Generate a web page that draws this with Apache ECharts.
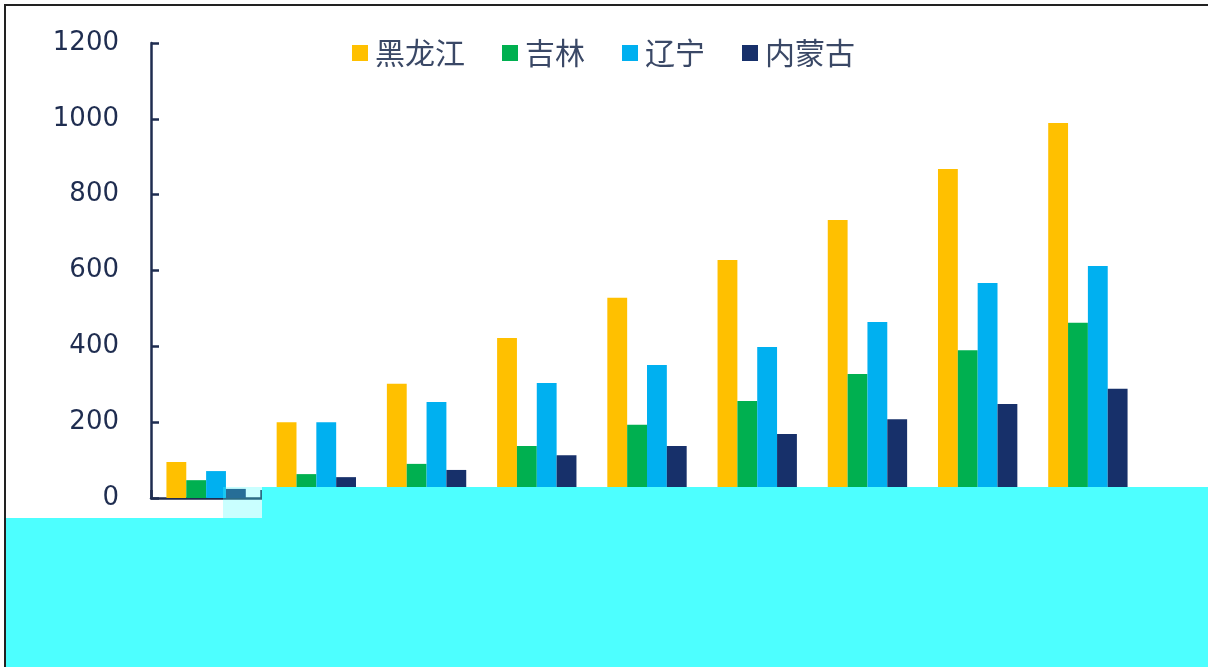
<!DOCTYPE html>
<html>
<head>
<meta charset="utf-8">
<script src="https://cdn.jsdelivr.net/npm/echarts@6/dist/echarts.min.js"></script>
<style>
html,body{margin:0;padding:0;background:#fff;}
#chart{width:1208px;height:667px;}
</style>
</head>
<body>
<div id="chart"></div>
<script>
// Categories (x-axis labels are hidden in the reference; placeholders)
const categories = ['1', '2', '3', '4', '5', '6', '7', '8', '9'];
const seriesNames = ['黑龙江', '吉林', '辽宁', '内蒙古'];
const heilongjiang = [95, 200, 301, 422, 528, 628, 733, 868, 989];
const jilin        = [47, 63, 90, 137, 193, 256, 327, 390, 462];
const liaoning     = [71, 200, 253, 303, 351, 398, 464, 567, 612];
const neimenggu    = [24, 55, 74, 113, 137, 169, 208, 248, 288];
const yTicks = [0, 200, 400, 600, 800, 1000, 1200];
const colors = ['#FFC000', '#00B050', '#00B0F0', '#17306a'];

const axisColor = '#1f2d50';
const chart = echarts.init(document.getElementById('chart'), null, {renderer: 'canvas'});
const values = [heilongjiang, jilin, liaoning, neimenggu];

chart.setOption({
  backgroundColor: '#ffffff',
  animation: false,
  color: colors,
  legend: {
    left: 352,
    top: 38,
    padding: 0,
    itemWidth: 16,
    itemHeight: 16,
    itemGap: 37,
    icon: 'rect',
    textStyle: {fontSize: 30, fontFamily: 'Noto Sans CJK SC', color: '#3a4866', padding: [0, 0, 0, 2]},
    data: seriesNames
  },
  grid: {left: 151, right: 65, top: 43, bottom: 169, containLabel: false},
  xAxis: {
    type: 'category',
    data: categories,
    axisLine: {show: true, lineStyle: {color: axisColor, width: 2.5}},
    axisTick: {show: true, inside: true, length: 8, lineStyle: {color: axisColor, width: 2.5}},
    axisLabel: {show: false},
    splitLine: {show: false}
  },
  yAxis: {
    type: 'value',
    min: yTicks[0],
    max: yTicks[yTicks.length - 1],
    interval: yTicks[1] - yTicks[0],
    axisLine: {show: true, lineStyle: {color: axisColor, width: 2.5}},
    axisTick: {show: true, inside: true, length: 8, lineStyle: {color: axisColor, width: 2.5}},
    axisLabel: {fontSize: 26, fontFamily: 'DejaVu Sans', color: axisColor, margin: 32,
      formatter: v => String(v)},
    splitLine: {show: false}
  },
  series: seriesNames.map((n, i) => ({
    name: n,
    type: 'bar',
    data: values[i],
    barGap: '0%',
    barCategoryGap: '28%',
    itemStyle: {color: colors[i]}
  })),
  graphic: [
    {type: 'rect', z: 100, shape: {x: 223, y: 487, width: 39, height: 31}, style: {fill: 'rgba(77,255,255,0.3)'}},
    {type: 'rect', z: 100, shape: {x: 262, y: 487, width: 946, height: 31}, style: {fill: '#4dffff'}},
    {type: 'rect', z: 100, shape: {x: 6, y: 518, width: 1202, height: 149}, style: {fill: '#4dffff'}},
    {type: 'line', z: 101, shape: {x1: 5, y1: 4, x2: 5, y2: 667}, style: {stroke: '#222', lineWidth: 2}},
    {type: 'line', z: 101, shape: {x1: 4, y1: 5, x2: 1208, y2: 5}, style: {stroke: '#222', lineWidth: 2}}
  ]
});
</script>
</body>
</html>
